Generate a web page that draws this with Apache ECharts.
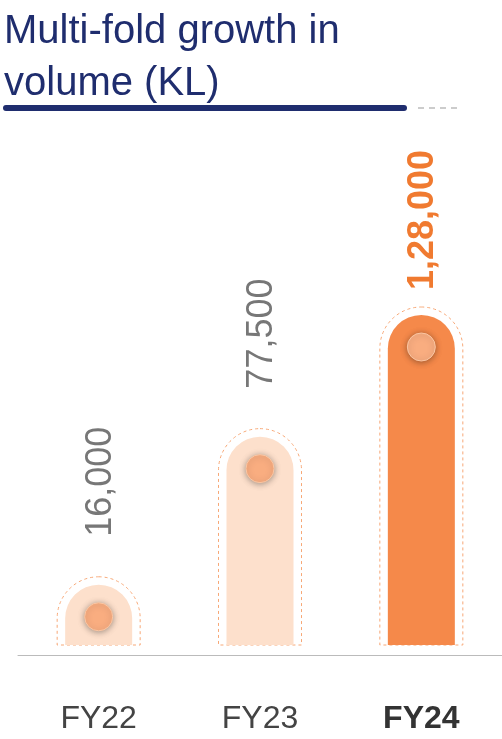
<!DOCTYPE html>
<html><head><meta charset="utf-8">
<script src="https://cdn.jsdelivr.net/npm/echarts@6/dist/echarts.min.js"></script>
<style>html,body{margin:0;padding:0;background:#fff}#c{width:502px;height:739px}</style>
</head><body><div id="c"></div>
<script>
const categories = ['FY22', 'FY23', 'FY24'];
const values = [16000, 77500, 128000];
const labels = ['16,000', '77,500', '1,28,000'];
const BASE = -9000;
const chart = echarts.init(document.getElementById('c'));
const FONT = '"Liberation Sans", Arial, sans-serif';
chart.setOption({
  animation: false,
  grid: {left: 18, right: -12, top: 315, bottom: 84},
  xAxis: {type: 'category', data: categories,
    axisLine: {onZero: false, lineStyle: {color: '#bbb', width: 1}}, axisTick: {show: false},
    axisLabel: {margin: 48, fontSize: 32, fontFamily: FONT, color: '#444',
      formatter: (v) => v === 'FY24' ? '{b|' + v + '}' : v,
      rich: {b: {fontSize: 32, fontWeight: 'bold', color: '#333', fontFamily: FONT}}}},
  yAxis: {type: 'value', min: -13150, max: 128000, show: false, splitLine: {show: false}},
  graphic: [
    {type: 'text', left: 4, top: 6, style: {text: 'Multi-fold growth in\nvolume (KL)', font: '40px ' + FONT, fill: '#1f2d6e', lineHeight: 52}},
    {type: 'line', shape: {x1: 6, y1: 108, x2: 404, y2: 108}, style: {stroke: '#1f2d6e', lineWidth: 6, lineCap: 'round'}},
    {type: 'line', shape: {x1: 418, y1: 108, x2: 460, y2: 108}, style: {stroke: '#999', lineWidth: 1, lineDash: [6, 5]}}
  ],
  series: [{
    type: 'custom',
    data: values.map((v, i) => [i, v]),
    renderItem: (params, api) => {
      const i = api.value(0);
      const top = api.coord([i, api.value(1)]);
      const bot = api.coord([i, BASE]);
      const w = 67, r = w / 2, x = top[0] - r;
      const hi = i === 2;
      const h = bot[1] - top[1];
      return {type: 'group', children: [
        {type: 'rect', shape: {x: x - 8, y: top[1] - 8, width: w + 16, height: h + 8, r: [r + 8, r + 8, 0, 0]},
          style: {fill: 'none', stroke: '#f7a877', lineWidth: 1, lineDash: [3, 3]}},
        {type: 'rect', shape: {x: x, y: top[1], width: w, height: h, r: [r, r, 0, 0]},
          style: {fill: hi ? '#f5894a' : '#fde0cc'}},
        {type: 'circle', shape: {cx: top[0], cy: top[1] + Math.min(32, h - 20), r: 14},
          style: {fill: '#f9ad80', stroke: '#fbc6a3', lineWidth: 1, shadowBlur: 6, shadowColor: 'rgba(0,0,0,0.35)', shadowOffsetY: 1}},
        {type: 'text', x: top[0] + 2, y: top[1] - (hi ? 25 : 48), rotation: Math.PI / 2,
          style: {text: labels[i], font: (hi ? 'bold ' : '') + '36px ' + FONT, fill: hi ? '#f07a30' : '#777', align: 'left', verticalAlign: 'middle'}}
      ]};
    }
  }]
});
</script></body></html>
